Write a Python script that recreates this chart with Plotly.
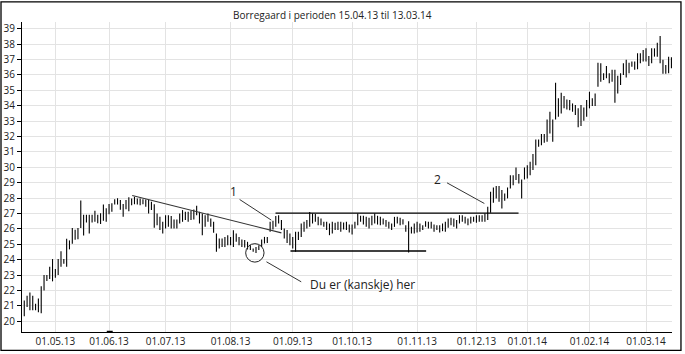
import datetime as dt
import plotly.graph_objects as go

# ---- data (high / low per trading day) ----
high_a = [21.34, 21.66, 21.86, 21.66, 21.14, 21.47, 22.27, 23.0, 23.0, 23.54, 24.04, 23.39, 24.04, 24.54, 24.04, 25.36, 25.25, 26.05, 25.94, 26.05,
          27.84, 26.91, 26.91, 26.91, 26.91, 27.17, 26.91, 27.02, 27.58, 27.34, 27.62, 27.67, 27.93, 27.99, 27.88, 27.62, 27.88, 28.05]
low_a = [20.32, 20.93, 20.71, 20.71, 20.71, 20.58, 20.52, 22.0, 22.61, 22.74, 22.59, 22.83, 23.0, 23.54, 23.74, 23.54, 24.67, 25.03, 25.29, 25.33,
         26.05, 25.57, 26.41, 25.70, 26.41, 26.46, 26.37, 26.31, 26.52, 26.46, 26.95, 27.11, 27.58, 27.58, 27.24, 26.78, 27.28, 27.15]
high_b = [27.97, 28.08, 27.97, 27.97, 27.93, 27.91, 27.87, 27.76, 27.6, 27.0, 26.78, 26.46, 26.89, 26.89, 26.83, 26.61, 26.61, 27.0, 27.22, 27.11,
          27.11, 27.17, 27.26, 27.5, 27.11, 27.0, 26.89, 27.0, 26.67, 26.46, 25.7, 25.37, 25.37, 25.48, 25.59, 25.48, 25.91]
low_b = [27.54, 27.6, 27.58, 27.54, 27.6, 27.43, 27.0, 27.22, 26.07, 26.24, 25.92, 25.7, 26.02, 26.13, 26.02, 26.02, 26.02, 26.35, 26.46, 26.57,
         26.46, 26.57, 26.61, 26.89, 26.35, 25.59, 26.13, 26.46, 26.13, 25.74, 24.51, 24.72, 24.83, 24.83, 24.94, 24.94, 24.83]
high_c = [25.70, 25.48, 25.31, 25.27, 25.16, 24.94, 24.72, 24.83, 24.94, 25.31, 25.48, 25.48, 26.46, 26.52, 26.83, 26.89, 26.57, 26.02, 25.92, 25.70,
          25.48, 25.81, 25.81, 26.35, 26.46, 26.57, 27.1, 27.0, 26.96, 26.78, 26.67, 26.46, 26.46, 26.35, 26.46, 26.39, 26.46, 26.46, 26.41, 26.46]
low_c = [25.16, 24.94, 24.83, 24.79, 24.66, 24.62, 24.51, 24.44, 24.62, 24.83, 25.05, 25.09, 25.81, 25.96, 26.13, 26.35, 25.92, 25.37, 25.09, 24.94,
         24.72, 24.51, 25.27, 25.48, 25.81, 26.02, 26.13, 26.35, 26.46, 26.24, 26.24, 26.13, 25.92, 25.59, 25.70, 25.92, 25.92, 25.81, 25.96, 25.92]
high_d = [26.28, 26.28, 26.46, 27.0, 26.85, 26.85, 26.78, 26.72, 26.85, 27.0, 26.85, 26.78, 26.67, 26.57, 26.46, 26.35, 26.78, 26.78, 26.72, 26.63,
          26.24, 26.5, 26.13, 26.35, 26.46, 26.35, 26.24, 26.50, 26.46, 26.46, 26.28, 26.24, 26.24, 26.35, 26.46, 26.67, 26.72, 26.67]
low_d = [25.76, 25.63, 26.02, 26.24, 26.46, 26.28, 26.13, 26.02, 26.24, 26.35, 26.28, 26.24, 26.28, 26.13, 26.02, 25.92, 26.13, 26.35, 26.24, 26.28,
         25.81, 24.46, 25.70, 25.70, 25.76, 25.81, 25.92, 26.13, 26.02, 26.02, 25.81, 25.92, 25.76, 25.85, 25.81, 26.07, 26.24, 26.13]
high_e = [26.57, 26.89, 26.89, 26.78, 26.68, 26.78, 26.78, 26.89, 26.89, 26.89, 27.0, 27.43]
low_e = [26.03, 26.35, 26.46, 26.35, 26.24, 26.35, 26.46, 26.39, 26.46, 26.46, 26.46, 26.57]
high_f = [28.41, 28.69, 28.78, 28.78, 28.52, 28.30, 28.69, 29.49, 29.49, 29.99, 29.56, 29.21, 29.99, 30.14, 30.36, 30.86, 31.81, 31.81, 32.16, 32.16,
          33.11, 33.61, 33.11, 35.50, 34.48, 34.85]
low_f = [27.04, 27.69, 27.98, 27.76, 27.33, 27.82, 27.98, 28.63, 28.84, 29.17, 28.95, 27.98, 29.21, 29.28, 29.49, 29.82, 30.14, 31.33, 31.44, 31.59,
         31.66, 32.20, 31.66, 33.11, 33.28, 33.50]
high_g = [34.63, 34.41, 34.37, 34.15, 34.05, 33.83, 34.05, 33.89, 34.37, 34.91, 34.48, 34.80, 36.80, 36.76, 36.11, 36.58, 36.11, 36.33, 36.33, 35.94,
          36.11, 36.76, 36.98, 36.80, 36.87, 36.87, 37.41, 37.41, 37.62, 37.73, 37.23, 37.73, 37.73, 38.10, 38.53, 36.98, 36.65, 37.19, 37.15]
low_g = [33.83, 33.76, 33.70, 33.61, 33.40, 32.60, 32.68, 33.03, 33.29, 33.83, 33.98, 33.98, 35.24, 35.56, 35.67, 35.78, 35.46, 35.56, 34.20, 34.80,
         35.35, 36.00, 35.84, 36.11, 36.54, 36.33, 36.37, 36.76, 36.87, 36.87, 36.58, 36.76, 37.19, 37.19, 36.76, 36.07, 36.07, 36.11, 36.43]

highs = high_a + high_b + high_c + high_d + high_e + high_f + high_g
lows = low_a + low_b + low_c + low_d + low_e + low_f + low_g

start_date = dt.date(2013, 4, 15)
end_date = dt.date(2014, 3, 13)
holidays = {dt.date(2013, 5, 1), dt.date(2013, 5, 9), dt.date(2013, 5, 17), dt.date(2013, 5, 20),
            dt.date(2013, 12, 24), dt.date(2013, 12, 25), dt.date(2013, 12, 26), dt.date(2013, 12, 31),
            dt.date(2014, 1, 1)}
month_starts = [dt.date(2013, m, 1) for m in range(5, 13)] + [dt.date(2014, m, 1) for m in range(1, 4)]
title_text = "Borregaard i perioden 15.04.13 til 13.03.14"

# ---- trading days ----
dates = []
d = start_date
while d <= end_date:
    if d.weekday() < 5 and d not in holidays:
        dates.append(d)
    d += dt.timedelta(days=1)
n = min(len(dates), len(highs))
dates = dates[:n]
highs = highs[:n]
lows = lows[:n]
idx = list(range(n))

tickvals = []
ticktext = []
for ms in month_starts:
    before = sum(1 for x in dates if x < ms)
    tickvals.append(before - 1)
    ticktext.append(ms.strftime("%d.%m.%y"))

# high-low segments
seg_x, seg_y = [], []
for i, h, l in zip(idx, highs, lows):
    seg_x += [i, i, None]
    seg_y += [l, h, None]

fig = go.Figure()
fig.add_trace(go.Scatter(
    x=seg_x, y=seg_y, mode="lines", line=dict(color="black", width=1.1),
    hoverinfo="skip", showlegend=False, connectgaps=False,
))

line_dark = "#333333"
shapes = [
    dict(type="line", xref="x", yref="y", x0=38.2, y0=28.17, x1=91.0, y1=25.74, line=dict(color=line_dark, width=1.2)),
    dict(type="line", xref="x", yref="y", x0=88.9, y0=27.02, x1=174.9, y1=27.02, line=dict(color="black", width=1.4)),
    dict(type="line", xref="x", yref="y", x0=94.2, y0=24.56, x1=142.2, y1=24.56, line=dict(color="black", width=1.4)),
    dict(type="line", xref="x", yref="y", x0=76.2, y0=27.91, x1=87.4, y1=26.57, line=dict(color=line_dark, width=1)),
    dict(type="line", xref="x", yref="y", x0=149.6, y0=28.99, x1=162.8, y1=27.65, line=dict(color=line_dark, width=1)),
    dict(type="line", xref="x", yref="y", x0=85.7, y0=23.86, x1=98.0, y1=22.56, line=dict(color=line_dark, width=1)),
    dict(type="circle", xref="x", yref="y", x0=81.6 - 3.25, x1=81.6 + 3.25, y0=24.44 - 0.6, y1=24.44 + 0.6,
         line=dict(color="#222222", width=1)),
    dict(type="rect", xref="x", yref="paper", x0=29.2, x1=31.3, y0=-0.002, y1=0.004, fillcolor="black", line=dict(width=0)),
    dict(type="rect", xref="paper", yref="paper", x0=-0.0323, x1=1.0138, y0=-0.0591, y1=1.0646,
         line=dict(color="black", width=1.3), fillcolor="rgba(0,0,0,0)"),
]

annotations = [
    dict(text=title_text, xref="paper", yref="paper", x=(332 - 22) / 650, y=(331.7 - 14.7) / 309.7,
         showarrow=False, font=dict(size=10, color="#222222"), xanchor="center", yanchor="middle"),
    dict(text="1", xref="x", yref="y", x=73.9, y=28.41, showarrow=False, font=dict(size=12, color="#222222")),
    dict(text="2", xref="x", yref="y", x=146.3, y=29.23, showarrow=False, font=dict(size=12, color="#222222")),
    dict(text="Du er (kanskje) her", xref="x", yref="y", x=100.4, y=22.41, xanchor="left", showarrow=False,
         font=dict(size=12, color="#222222")),
]

fig.update_layout(
    width=685, height=354,
    margin=dict(l=22, r=13, t=22, b=22, autoexpand=False),
    paper_bgcolor="white", plot_bgcolor="white",
    font=dict(family="Open Sans, Noto Sans, sans-serif", size=10, color="#222222"),
    shapes=shapes,
    annotations=annotations,
    xaxis=dict(range=[-0.8, 229.2], tickmode="array", tickvals=tickvals, ticktext=ticktext, automargin=False,
               showgrid=True, gridcolor="#e3e3e3", gridwidth=1, showline=True, linecolor="black", linewidth=1,
               ticks="", zeroline=False, tickfont=dict(size=10)),
    yaxis=dict(range=[19.3, 39.44], dtick=1, tick0=20, automargin=False, showgrid=True, gridcolor="#e3e3e3", gridwidth=1,
               showline=True, linecolor="black", linewidth=1, ticks="outside", ticklen=4, tickcolor="black",
               zeroline=False, tickfont=dict(size=10)),
)

fig.write_html("out.html")
